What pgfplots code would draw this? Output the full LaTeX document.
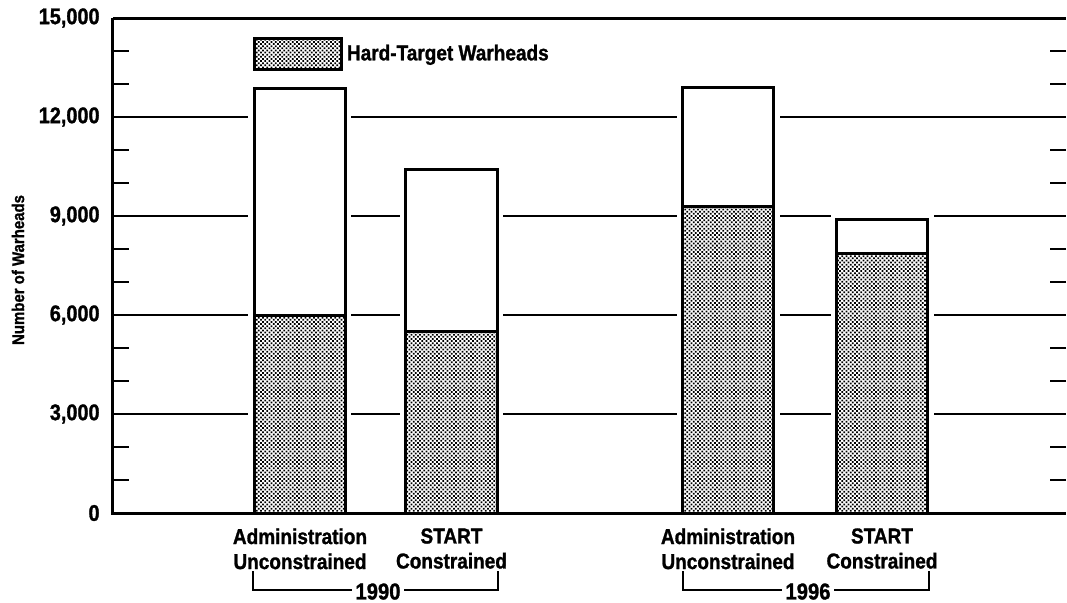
\documentclass[border=0pt]{standalone}
\usepackage{fontspec}
\setmainfont{Liberation Sans}[FakeStretch=0.88, BoldFeatures={FakeBold=1.2}]
\usepackage{pgfplots}
\pgfplotsset{compat=1.18}
\usetikzlibrary{patterns.meta}
\tikzset{hardfill/.style={pattern={Dots[distance=1.5pt, radius=0.62pt, angle=45]}, pattern color=black}}
\begin{document}
\begin{tikzpicture}
\useasboundingbox (-56.5pt,-44.5pt) rectangle (477pt,256.5pt);
\begin{axis}[
  at={(0,0)}, anchor=south west,
  scale only axis, width=476.5pt, height=247.5pt,
  xmin=113, xmax=1066, ymin=0, ymax=15000,
  axis line style={draw=none},
  clip=false,
  ybar, bar width=91,
  xtick={300,451.5,728,882},
  xticklabels={{Administration\\Unconstrained},{START\\Constrained},{Administration\\Unconstrained},{START\\Constrained}},
  x tick label style={align=center, font=\bfseries\fontsize{10.8}{12.5}\selectfont, anchor=north, inner sep=0pt, yshift=-7.5pt},
  ytick={0,3000,...,15000},
  minor ytick={1000,2000,4000,5000,7000,8000,10000,11000,13000,14000},
  scaled y ticks=false,
  ymajorgrids, major grid style={line width=1pt, black},
  major tick length=0pt, minor tick length=8pt,
  minor tick style={line width=1pt, black},
  y tick label style={font=\bfseries\fontsize{11.3}{13}\selectfont, inner sep=0pt, xshift=-6.5pt},
  yticklabel={\pgfmathprintnumber[fixed, precision=0, 1000 sep={,}, assume math mode=true]{\tick}},
  legend style={at={(rel axis cs:0.1469,0.9616)}, anchor=north west, draw=none, fill=none, inner sep=0pt, outer sep=0pt, font=\bfseries\fontsize{10.8}{12.5}\selectfont},
  legend image code/.code={\draw[hardfill, draw=black, line width=1.5pt] (0pt,-7.75pt) rectangle (43.5pt,7.75pt);},
]
\addplot[fill=white, draw=black, line width=1.5pt, bar shift=0pt, preaction={draw=white, line width=6pt}, forget plot]
  coordinates {(300,12850) (451.5,10400) (728,12900) (882,8900)};
\addplot[hardfill, draw=black, line width=1.5pt, bar shift=0pt]
  coordinates {(300,6000) (451.5,5500) (728,9300) (882,7850)};
\addlegendentry{Hard-Target Warheads}
\draw[line width=1.5pt] (axis cs:113,15000) -- (axis cs:1066,15000);
\draw[line width=1.5pt] (axis cs:113,15000) -- (axis cs:113,0) -- (axis cs:1066,0);
\draw[line width=1pt] (axis cs:253,-1760) -- (axis cs:253,-2333) -- (axis cs:498,-2333) -- (axis cs:498,-1760);
\node[fill=white, inner sep=1.5pt, font=\bfseries\fontsize{11.5}{13}\selectfont] at (axis cs:378,-2380) {1990};
\draw[line width=1pt] (axis cs:683,-1760) -- (axis cs:683,-2333) -- (axis cs:929,-2333) -- (axis cs:929,-1760);
\node[fill=white, inner sep=1.5pt, font=\bfseries\fontsize{11.5}{13}\selectfont] at (axis cs:808,-2380) {1996};
\node[rotate=90, font=\bfseries\fontsize{8.5}{10}\selectfont] at (axis cs:18,7364) {Number of Warheads};
\end{axis}
\end{tikzpicture}
\end{document}
